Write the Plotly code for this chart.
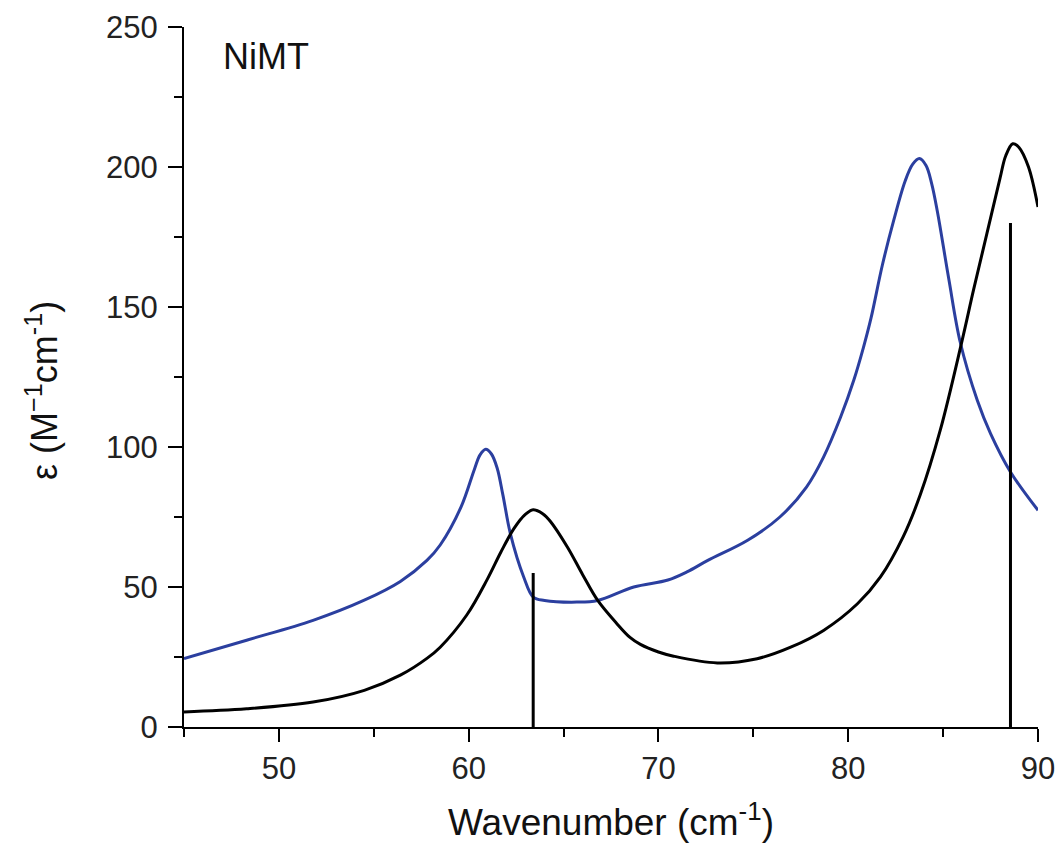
import plotly.graph_objects as go

# Blue spectrum
x_blue = [45, 48.3, 51.8, 54.5, 56.4, 57.8, 58.5, 59.6, 60.3, 60.6, 60.9, 61.2, 61.5, 61.8,
          62.2, 62.9, 63.4, 64.0, 65.7, 66.8, 68.7, 70.5, 71.5, 72.6, 74.7, 76.4, 77.8, 78.7,
          79.6, 80.3, 80.8, 81.2, 81.8, 82.4, 83.0, 83.4, 83.75, 84.1, 84.4, 84.7, 85.3,
          85.9, 86.8, 87.5, 88.55, 90.0]
y_blue = [24.4, 31, 38.1, 45.3, 52, 59.5, 65, 78.6, 92, 97.2, 99.2, 97.5, 92.5, 83,
          69, 53.6, 46.4, 45.2, 44.6, 45.2, 50, 52.5, 55.4, 59.5, 66.7, 75, 85.7, 96.4,
          110.7, 124, 135.5, 146, 165, 181, 195, 201, 203, 200.5, 194, 184, 160,
          137.5, 116.7, 104.8, 91.1, 77.4]

# Black spectrum
x_black = [45, 48.3, 51.8, 54.5, 56.4, 57.8, 58.5, 59.9, 61.0, 61.7, 62.4, 63.0, 63.4, 63.9,
           64.3, 65.2, 66.0, 66.8, 67.8, 68.5, 69.05, 70.0, 70.8, 73.1, 75.2, 77.0, 78.7,
           80.5, 81.7, 82.9, 83.8, 84.85, 86.0, 86.6, 87.3, 88.0, 88.3, 88.67, 89.0, 89.5,
           90.0]
y_black = [5.4, 6.5, 8.9, 13.1, 18.5, 24.5, 28.5, 40, 53, 62.5, 71, 76, 77.6, 76.2,
           73.5, 64.3, 54.5, 45.2, 37, 32, 29.5, 26.8, 25.3, 22.9, 24.4, 28.6, 34.5,
           44.1, 53.6, 68, 83, 106, 138, 156, 176, 196, 204, 208.3, 207, 200,
           185.7]

# Stick positions and heights
stick_x = [63.4, 88.55]
stick_y = [55, 180]

fig = go.Figure()

fig.add_trace(go.Scatter(x=x_blue, y=y_blue, mode="lines",
                         line=dict(color="#2B3F9F", width=3, shape="spline", smoothing=1.0),
                         showlegend=False))
fig.add_trace(go.Scatter(x=x_black, y=y_black, mode="lines",
                         line=dict(color="black", width=3, shape="spline", smoothing=1.0),
                         showlegend=False))

sx, sy = [], []
for xv, yv in zip(stick_x, stick_y):
    sx += [xv, xv, None]
    sy += [0, yv, None]
fig.add_trace(go.Scatter(x=sx, y=sy, mode="lines",
                         line=dict(color="black", width=3), showlegend=False))

fig.add_annotation(x=0.043, y=0.99, xref="paper", yref="paper", text="NiMT",
                   showarrow=False, xanchor="left", yanchor="top",
                   font=dict(family="Liberation Sans, Arial", size=36, color="#111"))

fig.add_annotation(x=0, y=0.48, xref="paper", yref="paper",
                   text="ε (M<sup>−1</sup>cm<sup>-1</sup>)", textangle=-90,
                   showarrow=False, xanchor="center", yanchor="middle", xshift=-142,
                   font=dict(family="Liberation Sans, Arial", size=36, color="#111"))

fig.update_layout(
    width=1062, height=852,
    margin=dict(l=183.5, r=24, t=26.7, b=125.3),
    plot_bgcolor="white", paper_bgcolor="white",
    font=dict(family="Liberation Sans, Arial", size=31, color="#222"),
    xaxis=dict(range=[45, 90], showline=True, linecolor="black", linewidth=2,
               automargin=False, ticklabeloverflow="allow",
               ticks="outside", ticklen=13, tickwidth=2, tickcolor="black",
               dtick=10, tick0=50, showgrid=False, zeroline=False,
               minor=dict(ticks="outside", ticklen=8, tickwidth=2, tickcolor="black",
                          dtick=5, tick0=45, showgrid=False),
               title=dict(text="Wavenumber (cm<sup>-1</sup>)", standoff=24,
                          font=dict(size=37, color="#111"))),
    yaxis=dict(range=[0, 250], showline=True, linecolor="black", linewidth=2,
               automargin=False,
               ticks="outside", ticklen=14, tickwidth=2, tickcolor="black",
               dtick=50, showgrid=False, zeroline=False, ticklabelstandoff=4,
               minor=dict(ticks="outside", ticklen=8, tickwidth=2, tickcolor="black",
                          dtick=25, showgrid=False)),
)

fig.write_html("out.html")
